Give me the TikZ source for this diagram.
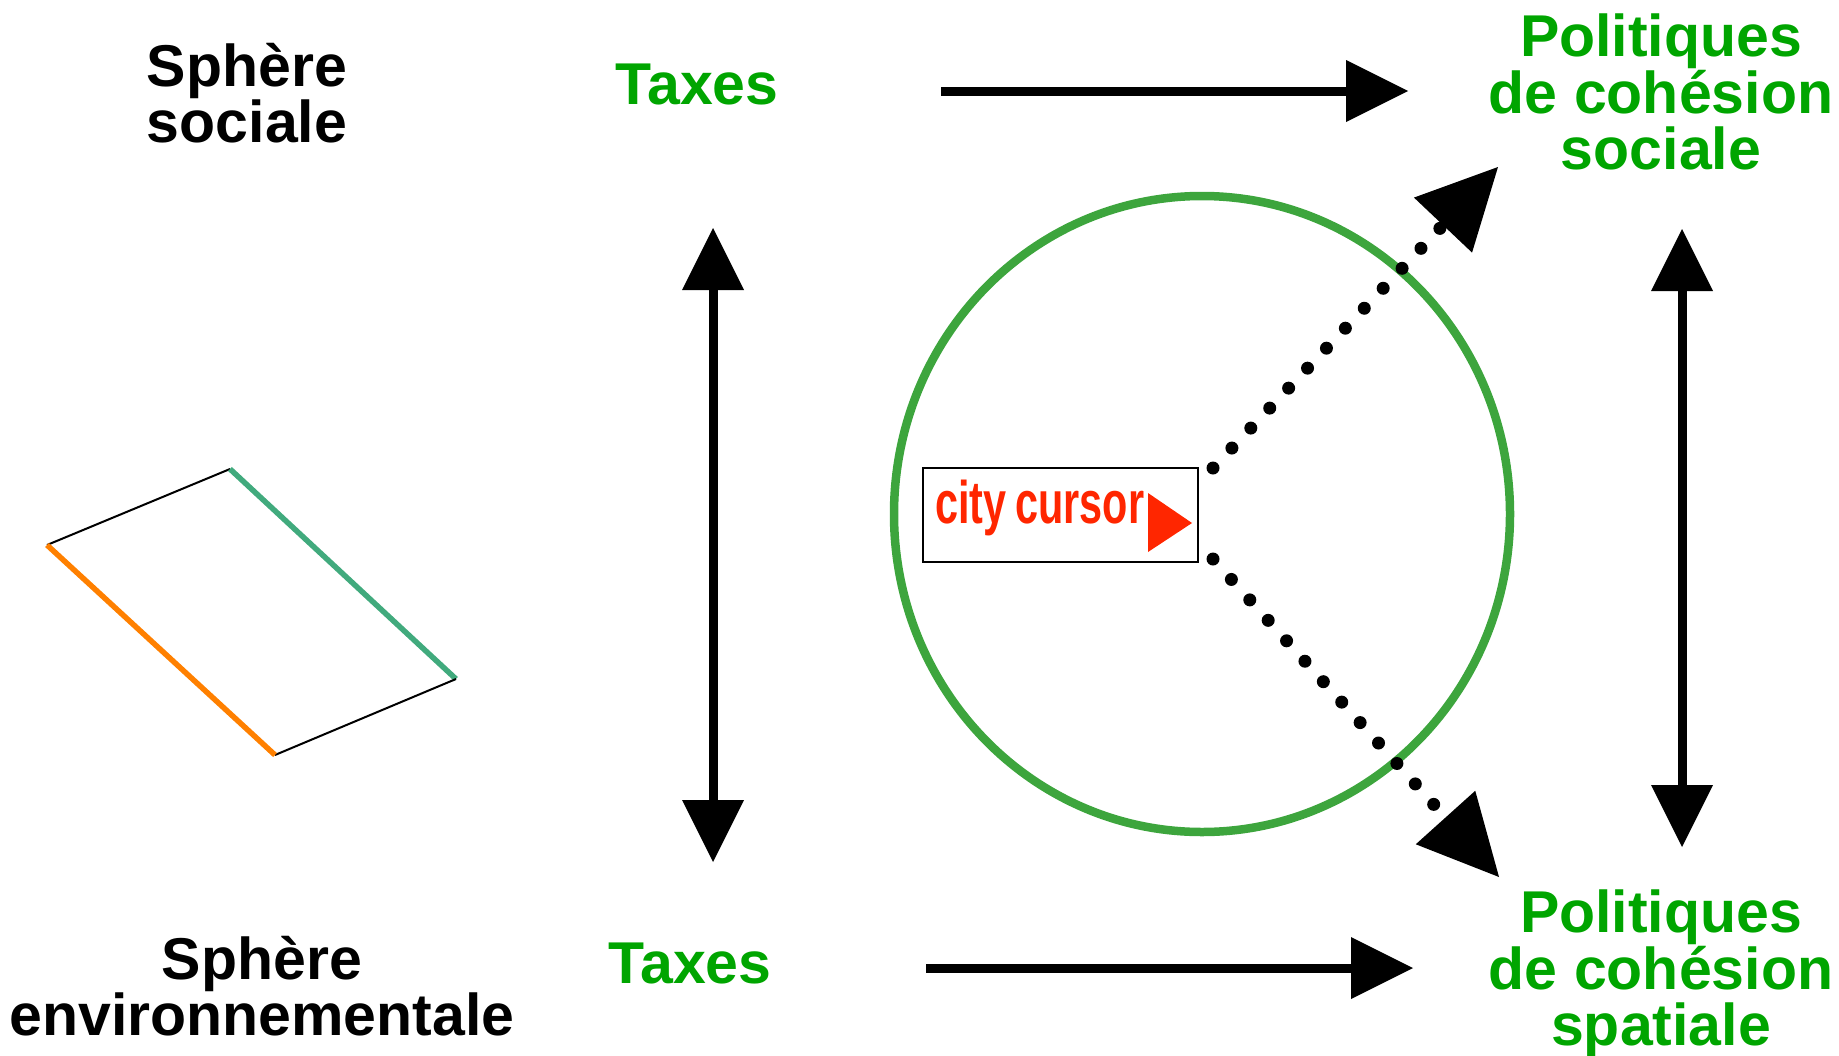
\documentclass[tikz,border=0pt]{standalone}
\usepackage{fontspec}
\setmainfont{Liberation Sans}
\newfontfamily\narrowfont{Liberation Sans}[FakeStretch=0.69]
\usetikzlibrary{arrows.meta,calc}
\definecolor{txtgreen}{RGB}{0,165,0}
\definecolor{circgreen}{RGB}{61,165,61}
\definecolor{cursorred}{RGB}{255,38,0}
\definecolor{tealedge}{RGB}{65,170,125}
\definecolor{orangeedge}{RGB}{255,128,0}
\begin{document}
\begin{tikzpicture}[x=1pt,y=-1pt,
  lbl/.style={font=\fontsize{59}{56.5}\selectfont\bfseries, align=center, inner sep=0pt},
  greenlbl/.style={lbl, text=txtgreen},
  blacklbl/.style={lbl, text=black},
  bigarrow/.style={line width=9pt, -{Triangle[length=62pt,width=62pt,line width=0pt]}},
  dblarrow/.style={line width=9pt, {Triangle[length=62pt,width=62pt,line width=0pt]}-{Triangle[length=62pt,width=62pt,line width=0pt]}},
  dotarrow/.style={line width=13pt, line cap=round, dash pattern=on 0pt off 27.5pt, -{Triangle[length=80pt,width=80pt,line width=0pt]}},
  cursorbox/.style={draw, line width=2pt, minimum width=275pt, minimum height=94pt,
    inner xsep=12pt, inner ysep=0pt, text width=251pt, align=left,
    text height=42pt, text depth=26pt,
    font=\narrowfont\bfseries\fontsize{60}{64}\selectfont, text=cursorred},
  thinedge/.style={line width=2pt, black},
  thickedge/.style={line width=5.5pt}
  ]
\useasboundingbox (0,0) rectangle (1839,1055);

% labels
\node[blacklbl] (ss) at (247,93) {Sphère\\sociale};
\node[blacklbl] (se) at (262,986) {Sphère\\environnementale};
\node[greenlbl] (t1) at (697,84) {Taxes};
\node[greenlbl] (t2) at (690,963) {Taxes};
\node[greenlbl] (ps) at (1661,92) {Politiques\\de cohésion\\sociale};
\node[greenlbl] (pp) at (1661,974) {Politiques\\de cohésion\\spatiale};

% circle
\draw[circgreen, line width=8.5pt] (1202,514) ellipse [x radius=308pt, y radius=318pt];

% city cursor box
\node[cursorbox] (cc) at (1060.5,515) {city\hspace{9pt}cursor};
\fill[cursorred] ($(cc.east)+(-51,-22)$) -- ($(cc.east)+(-51,37)$) -- ($(cc.east)+(-7,8)$) -- cycle;

% dotted arrows
\coordinate (d1s) at ($(cc.north east)+(14,1)$);
\coordinate (d1e) at (1498,167);
\coordinate (d2s) at ($(cc.south east)+(14,-4)$);
\coordinate (d2e) at (1499,877);
\draw[dotarrow] (d1s) -- (d1e);
\draw[dotarrow] (d2s) -- (d2e);

% horizontal arrows
\coordinate (h1s) at (941,91);
\coordinate (h1e) at (1408,91);
\coordinate (h2s) at (926,968);
\coordinate (h2e) at (1413,968);
\draw[bigarrow] (h1s) -- (h1e);
\draw[bigarrow] (h2s) -- (h2e);

% vertical arrows
\coordinate (v1s) at (713,228);
\coordinate (v1e) at (713,862);
\coordinate (v2s) at (1682,229);
\coordinate (v2e) at (1682,847);
\draw[dblarrow] (v1s) -- (v1e);
\draw[dblarrow] (v2s) -- (v2e);

% parallelogram
\coordinate (pa) at (47,545);
\coordinate (pb) at (230,469);
\coordinate (pc) at (456,679);
\coordinate (pd) at (275,755);
\draw[thinedge] (pa) -- (pb);
\draw[thickedge, tealedge] (pb) -- (pc);
\draw[thinedge] (pc) -- (pd);
\draw[thickedge, orangeedge] (pd) -- (pa);
\end{tikzpicture}
\end{document}
